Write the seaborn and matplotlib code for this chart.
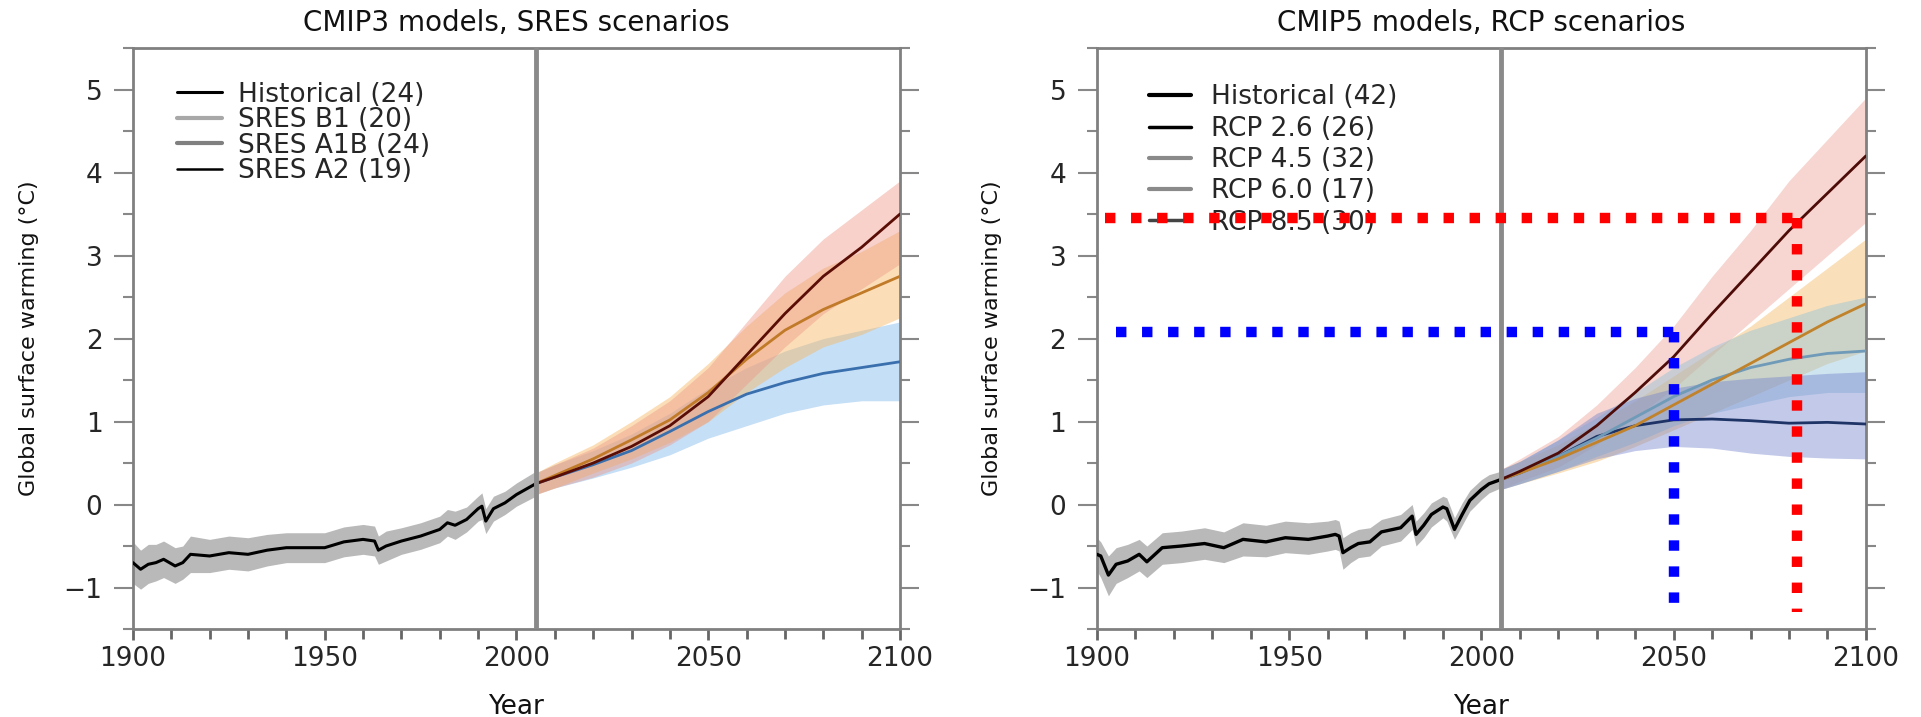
import numpy as np
import pandas as pd
import matplotlib
matplotlib.use("Agg")
import matplotlib.pyplot as plt
import seaborn as sns
from matplotlib.lines import Line2D
from matplotlib.ticker import MultipleLocator

# ---------------- data ----------------
# Left panel: CMIP3 / SRES
hist_years_L = [1900, 1902, 1904, 1906, 1908, 1911, 1913, 1915, 1920, 1925, 1930, 1935,
                1940, 1945, 1950, 1955, 1960, 1963, 1964, 1966, 1970, 1975, 1980, 1982,
                1984, 1987, 1990, 1991, 1992, 1994, 1997, 2000, 2005]
hist_mean_L = [-0.70, -0.78, -0.72, -0.70, -0.66, -0.74, -0.70, -0.60, -0.62, -0.58, -0.60, -0.55,
               -0.52, -0.52, -0.52, -0.45, -0.42, -0.44, -0.55, -0.50, -0.44, -0.38, -0.30, -0.22,
               -0.25, -0.18, -0.05, -0.02, -0.20, -0.05, 0.02, 0.12, 0.25]
hist_lo_L = [-0.95, -1.02, -0.95, -0.92, -0.88, -0.95, -0.90, -0.82, -0.82, -0.78, -0.80, -0.74,
             -0.70, -0.70, -0.70, -0.63, -0.60, -0.62, -0.72, -0.68, -0.60, -0.54, -0.46, -0.38,
             -0.42, -0.33, -0.20, -0.18, -0.35, -0.20, -0.12, -0.02, 0.10]
hist_hi_L = [-0.45, -0.55, -0.48, -0.48, -0.44, -0.52, -0.50, -0.38, -0.42, -0.38, -0.40, -0.36,
             -0.34, -0.34, -0.34, -0.27, -0.24, -0.26, -0.38, -0.32, -0.28, -0.22, -0.14, -0.06,
             -0.08, -0.03, 0.10, 0.14, -0.05, 0.10, 0.16, 0.26, 0.40]

fut_years = [2005, 2010, 2020, 2030, 2040, 2050, 2060, 2070, 2080, 2090, 2100]

sres_names = ["SRES B1", "SRES A1B", "SRES A2"]
b1_mean = [0.25, 0.33, 0.48, 0.65, 0.88, 1.12, 1.33, 1.47, 1.58, 1.65, 1.72]
b1_lo = [0.12, 0.20, 0.32, 0.45, 0.60, 0.80, 0.95, 1.10, 1.20, 1.25, 1.25]
b1_hi = [0.38, 0.48, 0.65, 0.85, 1.10, 1.40, 1.65, 1.85, 2.00, 2.10, 2.20]
a1b_mean = [0.25, 0.35, 0.55, 0.78, 1.02, 1.35, 1.75, 2.10, 2.35, 2.55, 2.75]
a1b_lo = [0.12, 0.20, 0.38, 0.55, 0.75, 1.00, 1.35, 1.65, 1.90, 2.05, 2.25]
a1b_hi = [0.38, 0.50, 0.72, 1.00, 1.30, 1.70, 2.15, 2.55, 2.85, 3.05, 3.30]
a2_mean = [0.25, 0.33, 0.50, 0.70, 0.95, 1.30, 1.80, 2.30, 2.75, 3.10, 3.50]
a2_lo = [0.12, 0.20, 0.33, 0.50, 0.72, 1.00, 1.45, 1.90, 2.30, 2.60, 2.90]
a2_hi = [0.38, 0.48, 0.68, 0.95, 1.25, 1.65, 2.20, 2.75, 3.20, 3.55, 3.90]

# Right panel: CMIP5 / RCP
hist_years_R = [1900, 1901, 1903, 1905, 1908, 1911, 1913, 1917, 1922, 1928, 1933, 1938,
                1944, 1949, 1955, 1960, 1962, 1963, 1964, 1966, 1968, 1971, 1974, 1979,
                1982, 1983, 1985, 1987, 1990, 1991, 1993, 1995, 1997, 2000, 2002, 2005]
hist_mean_R = [-0.60, -0.62, -0.85, -0.72, -0.68, -0.60, -0.69, -0.52, -0.50, -0.47, -0.52, -0.42,
               -0.45, -0.40, -0.42, -0.38, -0.36, -0.38, -0.58, -0.52, -0.47, -0.45, -0.33, -0.28,
               -0.14, -0.36, -0.25, -0.12, -0.03, -0.05, -0.30, -0.12, 0.05, 0.18, 0.25, 0.30]
hist_lo_R = [-0.80, -0.88, -1.10, -0.95, -0.88, -0.80, -0.88, -0.72, -0.70, -0.66, -0.70, -0.62,
             -0.63, -0.58, -0.60, -0.56, -0.54, -0.56, -0.78, -0.70, -0.64, -0.62, -0.50, -0.44,
             -0.30, -0.50, -0.40, -0.27, -0.16, -0.20, -0.42, -0.25, -0.08, 0.06, 0.14, 0.20]
hist_hi_R = [-0.40, -0.45, -0.62, -0.52, -0.48, -0.42, -0.50, -0.34, -0.32, -0.28, -0.33, -0.22,
             -0.25, -0.20, -0.22, -0.20, -0.18, -0.20, -0.40, -0.34, -0.30, -0.28, -0.18, -0.12,
             0.00, -0.20, -0.10, 0.02, 0.10, 0.08, -0.16, 0.02, 0.17, 0.30, 0.36, 0.40]

rcp_names = ["RCP 8.5", "RCP 6.0", "RCP 4.5", "RCP 2.6"]
rcp85_mean = [0.30, 0.40, 0.62, 0.95, 1.35, 1.78, 2.30, 2.80, 3.30, 3.75, 4.20]
rcp85_lo = [0.18, 0.28, 0.45, 0.72, 1.05, 1.40, 1.80, 2.20, 2.60, 3.00, 3.40]
rcp85_hi = [0.42, 0.55, 0.82, 1.20, 1.65, 2.15, 2.75, 3.30, 3.90, 4.40, 4.90]
rcp60_mean = [0.30, 0.38, 0.55, 0.75, 0.95, 1.20, 1.45, 1.70, 1.95, 2.20, 2.42]
rcp60_lo = [0.18, 0.25, 0.38, 0.52, 0.70, 0.90, 1.10, 1.30, 1.50, 1.70, 1.85]
rcp60_hi = [0.42, 0.52, 0.72, 0.98, 1.25, 1.55, 1.85, 2.15, 2.50, 2.85, 3.20]
rcp45_mean = [0.30, 0.38, 0.58, 0.80, 1.05, 1.30, 1.50, 1.65, 1.75, 1.82, 1.85]
rcp45_lo = [0.18, 0.25, 0.40, 0.58, 0.75, 0.95, 1.10, 1.20, 1.30, 1.35, 1.35]
rcp45_hi = [0.42, 0.52, 0.78, 1.05, 1.35, 1.65, 1.90, 2.10, 2.25, 2.40, 2.50]
rcp26_mean = [0.30, 0.38, 0.58, 0.82, 0.95, 1.02, 1.03, 1.01, 0.98, 0.99, 0.97]
rcp26_lo = [0.18, 0.25, 0.40, 0.55, 0.65, 0.70, 0.68, 0.62, 0.58, 0.56, 0.55]
rcp26_hi = [0.42, 0.52, 0.78, 1.10, 1.28, 1.40, 1.48, 1.52, 1.55, 1.58, 1.60]

# legend labels
legend_L = ["Historical (24)", "SRES B1 (20)", "SRES A1B (24)", "SRES A2 (19)"]
legend_R = ["Historical (42)", "RCP 2.6 (26)", "RCP 4.5 (32)", "RCP 6.0 (17)", "RCP 8.5 (30)"]

# marker (dotted guide) values on right panel
guide_years = [2050, 2082]
guide_values = [2.08, 3.45]
guide_xstart = [1905, 1902]
guide_bottom = -1.30

x_ticks = [1900, 1950, 2000, 2050, 2100]
y_ticks = [-1, 0, 1, 2, 3, 4, 5]
titles = ["CMIP3 models, SRES scenarios", "CMIP5 models, RCP scenarios"]

# ---------------- style ----------------
sns.set_theme(style="white")
plt.rcParams['font.family'] = ['DejaVu Sans']

fig = plt.figure(figsize=(19.21, 7.17), dpi=100)
axL = fig.add_axes([0.0692, 0.1227, 0.3993, 0.8103])
axR = fig.add_axes([0.5710, 0.1227, 0.4003, 0.8103])

SPINE = "#808080"


def style_axes(ax, title):
    ax.set_xlim(1900, 2100)
    ax.set_ylim(-1.5, 5.5)
    ax.set_xticks(x_ticks)
    ax.set_yticks(y_ticks)
    ax.xaxis.set_minor_locator(MultipleLocator(10))
    ax.yaxis.set_minor_locator(MultipleLocator(0.5))
    for s in ax.spines.values():
        s.set_color(SPINE)
        s.set_linewidth(2.0)
    ax.tick_params(axis="x", which="major", direction="out", length=8, width=2,
                   color="#666666", labelsize=19, pad=4, bottom=True, top=False)
    ax.tick_params(axis="x", which="minor", direction="out", length=7, width=2,
                   color="#666666", bottom=True, top=False)
    ax.tick_params(axis="y", which="major", direction="out", length=14, width=1.5,
                   color="#888888", labelsize=19, pad=8, left=True, right=True)
    ax.tick_params(axis="y", which="minor", direction="out", length=7, width=1.5,
                   color="#888888", left=True, right=True)
    ax.set_title(title, fontsize=20, pad=12, color="#111111")
    ax.set_xlabel("Year", fontsize=19, labelpad=16, color="#111111")
    ax.set_ylabel("Global surface warming (°C)", fontsize=16, labelpad=18, color="#111111")
    ax.axvline(2005, color="#8a8a8a", lw=3.5, zorder=4)


def long_df(names, means):
    rows = []
    for n, m in zip(names, means):
        for y, v in zip(fut_years, m):
            rows.append({"year": y, "value": v, "scenario": n})
    return pd.DataFrame(rows)


# ---------------- left panel ----------------
axL.fill_between(hist_years_L, hist_lo_L, hist_hi_L, color="#9c9c9c", alpha=0.7, lw=0, zorder=1)
sres_band_colors = ["#80b8ec", "#f7b760", "#ee9a8a"]
for lo, hi, c in zip([b1_lo, a1b_lo, a2_lo], [b1_hi, a1b_hi, a2_hi], sres_band_colors):
    axL.fill_between(fut_years, lo, hi, color=c, alpha=0.45, lw=0, zorder=1)

df_hL = pd.DataFrame({"year": hist_years_L, "value": hist_mean_L})
sns.lineplot(data=df_hL, x="year", y="value", ax=axL, color="black", lw=2.2, zorder=3)
df_L = long_df(sres_names, [b1_mean, a1b_mean, a2_mean])
sns.lineplot(data=df_L, x="year", y="value", hue="scenario", ax=axL, legend=False,
             palette={"SRES B1": "#3a6fae", "SRES A1B": "#c07a28", "SRES A2": "#5a0d05"},
             hue_order=sres_names, lw=2.0, zorder=3)

style_axes(axL, titles[0])
hL = [Line2D([], [], color="black", lw=2.2),
      Line2D([], [], color="#a8a8a8", lw=3),
      Line2D([], [], color="#808080", lw=3),
      Line2D([], [], color="black", lw=1.8)]
axL.legend(hL, legend_L, loc="upper left", bbox_to_anchor=(0.04, 0.965), frameon=False,
           fontsize=19, labelspacing=-0.02, handlelength=1.7, handletextpad=0.6,
           borderpad=0.0)

# ---------------- right panel ----------------
axR.fill_between(hist_years_R, hist_lo_R, hist_hi_R, color="#9c9c9c", alpha=0.7, lw=0, zorder=1)
rcp_band_colors = ["#ec9e92", "#f3b65c", "#8cc0da", "#7080cc"]
for lo, hi, c in zip([rcp85_lo, rcp60_lo, rcp45_lo, rcp26_lo],
                     [rcp85_hi, rcp60_hi, rcp45_hi, rcp26_hi], rcp_band_colors):
    axR.fill_between(fut_years, lo, hi, color=c, alpha=0.42, lw=0, zorder=1)

df_hR = pd.DataFrame({"year": hist_years_R, "value": hist_mean_R})
sns.lineplot(data=df_hR, x="year", y="value", ax=axR, color="black", lw=2.4, zorder=3)
df_R = long_df(rcp_names, [rcp85_mean, rcp60_mean, rcp45_mean, rcp26_mean])
sns.lineplot(data=df_R, x="year", y="value", hue="scenario", ax=axR, legend=False,
             palette={"RCP 8.5": "#4e0c08", "RCP 6.0": "#c0822a", "RCP 4.5": "#6f9ab8",
                      "RCP 2.6": "#1e3466"},
             hue_order=rcp_names[::-1], lw=2.0, zorder=3)

style_axes(axR, titles[1])
hR = [Line2D([], [], color="black", lw=3),
      Line2D([], [], color="black", lw=2.5),
      Line2D([], [], color="#8a8a8a", lw=3),
      Line2D([], [], color="#8a8a8a", lw=3),
      Line2D([], [], color="#444444", lw=2.5)]
axR.legend(hR, legend_R, loc="upper left", bbox_to_anchor=(0.05, 0.96), frameon=False,
           fontsize=19, labelspacing=0.2, handlelength=1.6, handletextpad=0.75,
           borderpad=0.0)

# dotted guides
guide_colors = ["#0000ff", "#ff0000"]
for gx, gy, xs, c in zip(guide_years, guide_values, guide_xstart, guide_colors):
    axR.plot([xs, gx], [gy, gy], color=c, lw=7.5, linestyle=(0, (1, 1.5)),
             dash_capstyle="butt", zorder=10)
    axR.plot([gx, gx], [gy, guide_bottom], color=c, lw=7.5, linestyle=(0, (1, 1.5)),
             dash_capstyle="butt", zorder=10)

fig.savefig("out.png", dpi=100, facecolor="white")
